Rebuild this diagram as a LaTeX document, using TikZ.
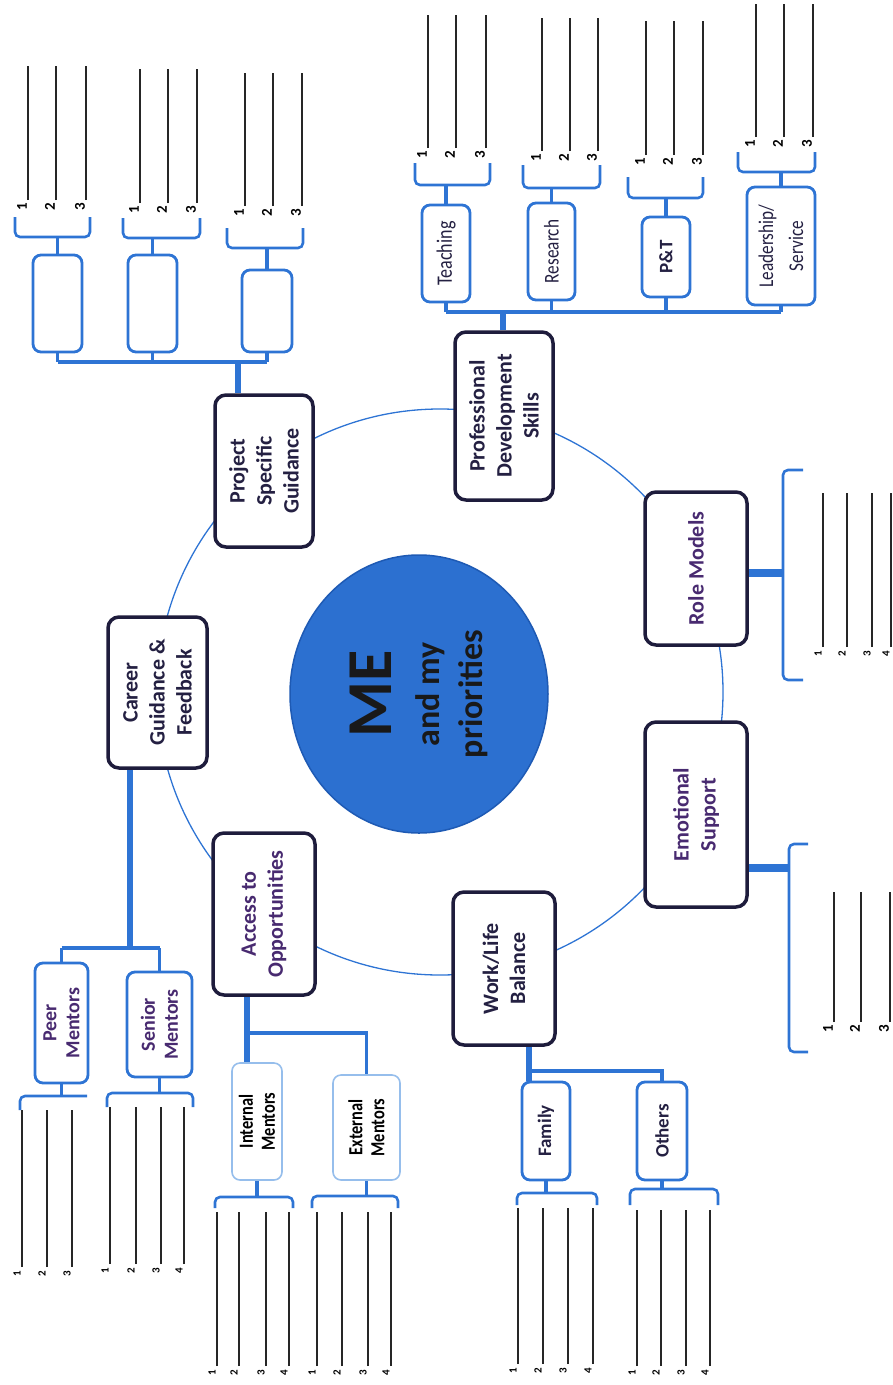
\documentclass[tikz,border=0pt]{standalone}
\usepackage{fontspec}
\setmainfont{Carlito}
\newfontfamily\narrowfont[FakeStretch=0.82]{Carlito}
\usetikzlibrary{shapes.geometric}

\definecolor{linkblue}{RGB}{46,116,212}
\definecolor{paleblue}{RGB}{150,190,236}
\definecolor{boxnavy}{RGB}{30,28,60}
\definecolor{meblue}{RGB}{44,112,208}
\definecolor{meedge}{RGB}{30,90,180}
\definecolor{txtpurple}{RGB}{72,42,112}
\definecolor{txtnavy}{RGB}{36,32,66}

\begin{document}
\begin{tikzpicture}[x=1pt,y=-1pt,
  main/.style={draw=boxnavy, line width=3.5pt, rounded corners=11pt, fill=white,
    rotate=90, align=center, inner sep=2pt, text=txtpurple,
    font=\bfseries\fontsize{22}{27}\selectfont},
  sub/.style={draw=linkblue, line width=2.8pt, rounded corners=8pt, fill=white,
    rotate=90, align=center, inner sep=2pt, text=txtnavy,
    font=\bfseries\fontsize{20}{23}\selectfont},
  pale/.style={sub, draw=paleblue, line width=1.6pt, text=black},
  ring/.style={draw=linkblue, line width=1.3pt},
  stem/.style={draw=linkblue, line width=5.5pt},
  link/.style={draw=linkblue, line width=3.2pt},
  fat/.style={draw=linkblue, line width=8pt},
  brk/.style={draw=linkblue, line width=2.6pt, rounded corners=5pt},
  ans/.style={draw=black!85, line width=1.6pt},
  num/.style={rotate=90, inner sep=0pt, font=\bfseries\fontsize{15}{15}\selectfont},
  numsm/.style={num, font=\bfseries\fontsize{11}{11}\selectfont}]

\useasboundingbox (0,0) rectangle (893,1385);

% ring through the main topics
\coordinate (hub) at (440,692);
\draw[ring] (hub) circle [radius=283pt];

\node[ellipse, rotate=90, fill=meblue, draw=meedge, line width=1.5pt,
  minimum width=278pt, minimum height=258pt, inner sep=0pt, align=center,
  text=black!90, font=\bfseries\fontsize{34}{40}\selectfont] (me) at (419,694)
  {{\fontsize{64}{64}\selectfont ME}\\[8pt]and my\\[3pt]priorities};

% main topics
\node[main, text=txtnavy, minimum width=151pt, minimum height=99pt] (cg) at (157.5,692.5) {Career\\Guidance \&\\Feedback};
\node[main, text=txtnavy, minimum width=152pt, minimum height=98pt] (ps) at (264,471) {Project\\Specific\\Guidance};
\node[main, minimum width=162pt, minimum height=102pt] (ao) at (264,914) {Access to\\Opportunities};
\node[main, text=txtnavy, minimum width=168pt, minimum height=98pt] (pd) at (504,416) {Professional\\Development\\Skills};
\node[main, text=txtnavy, minimum width=153pt, minimum height=102pt] (wl) at (504,968.5) {Work/Life\\Balance};
\node[main, minimum width=153pt, minimum height=102pt] (rm) at (696,568.5) {Role Models};
\node[main, minimum width=185pt, minimum height=102pt] (es) at (696,814.5) {Emotional\\Support};

% project specific guidance
\node[sub, minimum width=97pt, minimum height=49pt] (psA) at (57.5,303.5) {};
\node[sub, minimum width=97pt, minimum height=49pt] (psB) at (152.5,303.5) {};
\node[sub, minimum width=82pt, minimum height=50pt] (psC) at (267,311) {};
\coordinate (psj) at (238,362);
\draw[stem] (ps.east -| psj) -- (psj);
\draw[link] (psA.west |- psj) -- (psC.west |- psj);
\foreach \b in {psA,psB,psC} \draw[link] (\b.west) -- (\b.west |- psj);

% professional development
\node[sub, font=\narrowfont\fontsize{22}{24}\selectfont, minimum width=97pt, minimum height=48pt] (te) at (446,253.5) {Teaching};
\node[sub, font=\narrowfont\fontsize{21}{24}\selectfont, minimum width=97pt, minimum height=47pt] (re) at (551.5,251.5) {Research};
\node[sub, font=\bfseries\fontsize{19}{22}\selectfont, minimum width=80pt, minimum height=48pt] (pt) at (666,257) {P\&T};
\node[sub, font=\narrowfont\fontsize{21}{30}\selectfont, minimum width=118pt, minimum height=68pt] (ls) at (781,246) {Leadership/\\Service};
\coordinate (pdj) at (503,312);
\draw[stem] (pd.east -| pdj) -- (pdj);
\draw[link] (te.west |- pdj) -- (ls.west |- pdj);
\foreach \b in {te,re,pt,ls} \draw[link] (\b.west) -- (\b.west |- pdj);

% career guidance
\node[sub, text=txtpurple, minimum width=120pt, minimum height=53pt] (pm) at (61.5,1023) {Peer\\Mentors};
\node[sub, text=txtpurple, minimum width=105pt, minimum height=65pt] (sm) at (159.5,1024.5) {Senior\\Mentors};
\coordinate (cgj) at (130,948);
\draw[stem] (cg.west -| cgj) -- (cgj);
\draw[link] (pm.east |- cgj) -- (sm.east |- cgj);
\draw[link] (pm.east) -- (pm.east |- cgj);
\draw[link] (sm.east) -- (sm.east |- cgj);

% access to opportunities
\node[pale, font=\narrowfont\bfseries\fontsize{20}{22}\selectfont, minimum width=117pt, minimum height=50pt] (im) at (257,1121.5) {Internal\\Mentors};
\node[pale, font=\narrowfont\bfseries\fontsize{20}{22}\selectfont, minimum width=105pt, minimum height=67pt] (em) at (366.5,1127.5) {External\\Mentors};
\coordinate (aoj) at (247,1033);
\draw[stem] (ao.west -| aoj) -- (im.east -| aoj);
\draw[link] (aoj) -| (em.east);

% work/life balance
\node[sub, font=\bfseries\fontsize{19}{23}\selectfont, minimum width=98pt, minimum height=48pt] (fa) at (546,1131) {Family};
\node[sub, font=\bfseries\fontsize{19}{23}\selectfont, minimum width=98pt, minimum height=50pt] (ot) at (662,1131) {Others};
\coordinate (wlj) at (529,1071);
\draw[stem] (wl.west -| wlj) -- (fa.east -| wlj);
\draw[link] (wlj) -| (ot.east);

% role models and emotional support
\coordinate (rmj) at (783,573);
\draw[fat] (rm.south |- rmj) -- (rmj);
\draw[brk] (803,470) -- (783,470) -- (783,680) -- (803,680);
\coordinate (esj) at (789,868);
\draw[fat] (es.south |- esj) -- (esj);
\draw[brk] (808,844) -- (789,844) -- (789,1052) -- (808,1052);

% brackets over the boxes
\foreach \b/\l/\r/\y/\t in {psA/15/90/237/217, psB/123/200/238/218, psC/227/303/248/228,
    te/415/490/185/163, re/523/600/188/165, pt/628/703/198/177, ls/738/815/172/152}{
  \coordinate (\b-k) at (\l,\y);
  \draw[link] (\b.east) -- (\b.east |- \b-k);
  \draw[brk] (\l,\t) -- (\l,\y) -- (\r,\y) -- (\r,\t);
}
% brackets under the boxes
\coordinate (pm-k) at (20,1096);
\draw[link] (pm.west) -- (pm.west |- pm-k);
\draw[brk] (20,1110) -- (20,1096) -- (87,1096);
\foreach \b/\l/\r/\y/\t in {sm/107/193/1093/1107, im/215/293/1197/1208, em/312/398/1196/1208,
    fa/517/597/1193/1205, ot/630/718/1189/1205}{
  \coordinate (\b-k) at (\l,\y);
  \draw[link] (\b.west) -- (\b.west |- \b-k);
  \draw[brk] (\l,\t) -- (\l,\y) -- (\r,\y) -- (\r,\t);
}

% numbered answer lines
\foreach \g/\bot/\top/\xs in {psA/200/66/{28,56,86}, psB/203/69/{140,168,197},
    psC/206/73/{245,273,302}, te/148/15/{428,456,486}, re/151/18/{542,570,598},
    pt/155/21/{646,674,703}, ls/137/4/{756,784,813}, es/1022/892/{834,861,890}}{
  \foreach \x [count=\k] in \xs {
    \node[num] (\g-\k) at (\x-6,\bot+7) {\k};
    \draw[ans] (\x,\bot) -- (\x,\top);}
}
\foreach \g/\bot/\top/\xs in {rm/647/493/{823,847,872,891}, pm/1267/1110/{22,47,72},
    sm/1264/1107/{110,136,161,184}, im/1366/1212/{217,239,266,289},
    em/1366/1212/{317,342,368,391}, fa/1364/1208/{518,543,568,593},
    ot/1366/1210/{637,661,686,710}}{
  \foreach \x [count=\k] in \xs {
    \node[numsm] (\g-\k) at (\x-5,\bot+7) {\k};
    \draw[ans] (\x,\bot) -- (\x,\top);}
}
\end{tikzpicture}
\end{document}
